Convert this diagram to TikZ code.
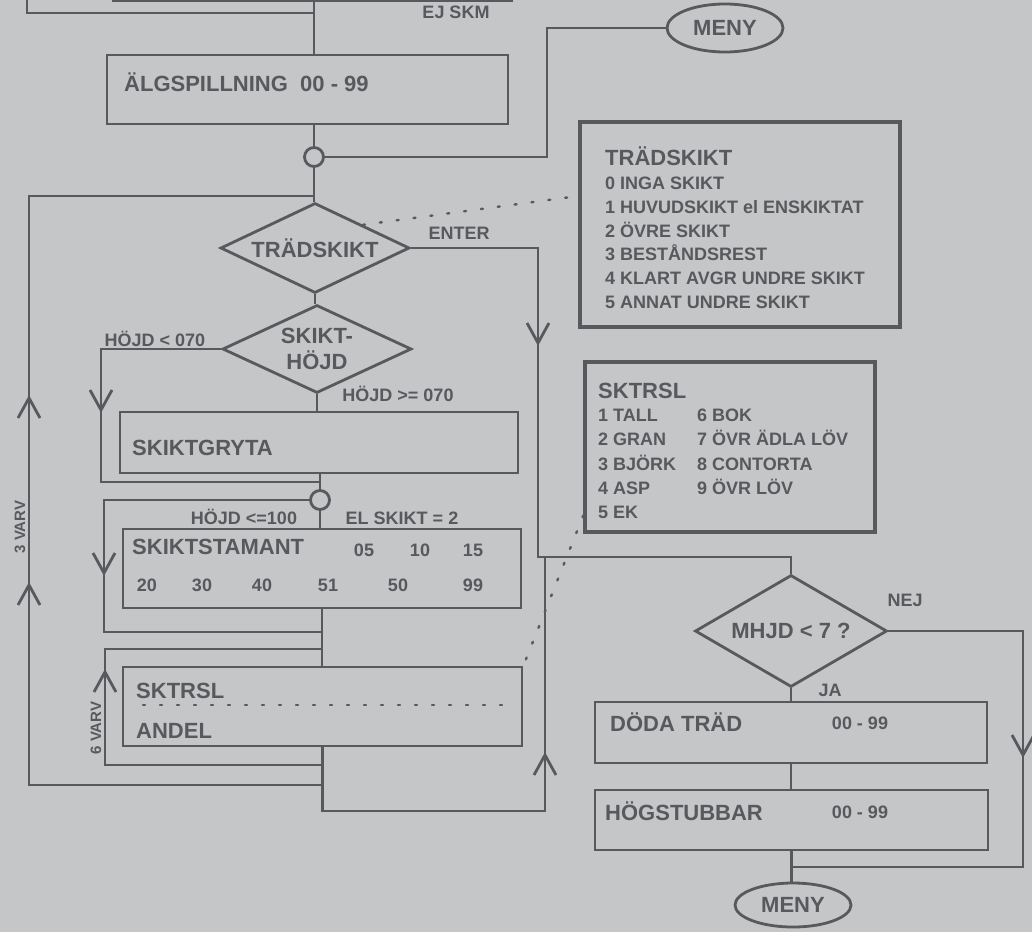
\documentclass[tikz,border=0pt]{standalone}
\usepackage{fontspec}
\setmainfont{Liberation Sans}
\usetikzlibrary{shapes.geometric}
\definecolor{paper}{HTML}{C4C6C8}
\definecolor{ink}{HTML}{58595D}
\newcommand\bigf{\fontsize{22}{26}\selectfont\bfseries}
\newcommand\smallf{\fontsize{18}{21}\selectfont\bfseries}
\newcommand\tinyf{\fontsize{15}{17}\selectfont\bfseries}

\tikzset{
  wire/.style={draw=ink, line width=2.8pt},
  box/.style={wire, rectangle, inner sep=0pt},
  infobox/.style={box, line width=3.4pt},
  dia/.style={wire, diamond, inner sep=0pt},
  menu/.style={wire, ellipse, inner sep=0pt, font=\bigf, text=ink},
  junc/.style={wire, circle, fill=paper, inner sep=0pt, minimum size=19},
  big/.style={font=\bigf, text=ink, inner sep=0pt},
  small/.style={font=\smallf, text=ink, inner sep=0pt},
  tiny/.style={font=\tinyf, text=ink, inner sep=0pt},
  dots/.style={draw=ink, line width=2.4pt, line cap=round, dash pattern=on 2pt off 15pt},
  vdown/.pic={\draw[wire] (-11,-20) -- (0,0) -- (11,-20);},
  vup/.pic={\draw[wire] (-11,20) -- (0,0) -- (11,20);},
}

\begin{document}
\begin{tikzpicture}[x=1pt, y=-1pt]
  \useasboundingbox (0,0) rectangle (1032,932);
  \fill[paper] (0,0) rectangle (1032,932);

  % previous step, cut off at the top edge
  \node[box, minimum width=398, minimum height=60, anchor=south west] (prev) at (112,2) {};
  \coordinate (prevl) at (27,-4);
  \coordinate (prevm) at (314,-4);
  \node[small, anchor=base] (ejskm) at (456,18.5) {EJ SKM};
  \node[menu, minimum width=116, minimum height=48] (meny1) at (725,28) {MENY};

  \node[box, minimum width=401, minimum height=69] (alg) at (307.5,89.5) {};
  \node[big, anchor=base west] (algt) at (124,91) {ÄLGSPILLNING\ \ 00 - 99};
  \node[junc] (c1) at (314,157) {};
  \coordinate (mr) at (547,157);

  \draw[wire] (prevl) |- (prevm |- 0,13);
  \draw[wire] (prevm) -- (prevm |- alg.north);
  \draw[wire] (alg.south -| c1) -- (c1.north);
  \draw[wire] (c1.east) -- (mr) |- (meny1.west);

  % layer questions
  \node[dia, minimum width=189, minimum height=90, label={[big]center:TRÄDSKIKT}] (td) at (315,248) {};
  \node[dia, minimum width=189, minimum height=88, label={[big, align=center]center:SKIKT-\\HÖJD}] (sh) at (317,349) {};
  \node[small, anchor=base] (tenter) at (459,239.5) {ENTER};
  \node[small, anchor=base] (tlow) at (155,346.5) {HÖJD < 070};
  \node[small, anchor=base] (thigh) at (398,401.5) {HÖJD >= 070};

  \node[box, minimum width=398, minimum height=61] (gry) at (319,442.5) {};
  \node[big, anchor=base west] (gryt) at (132,455) {SKIKTGRYTA};
  \node[junc] (c2) at (320,500) {};
  \node[small, anchor=base] (t100) at (244,524.5) {HÖJD <=100};
  \node[small, anchor=base] (tel) at (402,524.5) {EL SKIKT = 2};

  \node[box, minimum width=398, minimum height=79] (stam) at (322,568.5) {};
  \node[big, anchor=base west] (stamt) at (132,554) {SKIKTSTAMANT};
  \foreach \n/\x in {05/364,10/420,15/473}
    \node[small, anchor=base] (sa\n) at (\x,556.5) {\n};
  \foreach \n/\x in {20/147,30/202,40/262,51/328,50/398,99/473}
    \node[small, anchor=base] (sb\n) at (\x,591.5) {\n};

  \node[box, minimum width=399, minimum height=79] (andel) at (322.5,706.5) {};
  \draw[dots] (143,705) -- (512,705);
  \node[big, anchor=base west] (andt1) at (136,698) {SKTRSL};
  \node[big, anchor=base west] (andt2) at (136,738) {ANDEL};

  \node[tiny, rotate=90] (v3) at (20,527) {3 VARV};
  \node[tiny, rotate=90] (v6) at (96,728) {6 VARV};

  % code lists
  \node[infobox, minimum width=320, minimum height=205] (tinfo) at (740,224.5) {};
  \node[big, anchor=base west] (tinfot) at (605,165) {TRÄDSKIKT};
  \foreach \t [count=\i from 0] in {0 INGA SKIKT, 1 HUVUDSKIKT el ENSKIKTAT, 2 ÖVRE SKIKT,
      3 BESTÅNDSREST, 4 KLART AVGR UNDRE SKIKT, 5 ANNAT UNDRE SKIKT}
    \node[small, anchor=base west] (ti\i) at (605,189.5+23.8*\i) {\t};

  \node[infobox, minimum width=290, minimum height=170] (sinfo) at (730,447) {};
  \node[big, anchor=base west] (sinfot) at (598,398) {SKTRSL};
  \foreach \t [count=\i from 0] in {1 TALL, 2 GRAN, 3 BJÖRK, 4 ASP, 5 EK}
    \node[small, anchor=base west] (sl\i) at (598,421.5+24.25*\i) {\t};
  \foreach \t [count=\i from 0] in {6 BOK, 7 ÖVR ÄDLA LÖV, 8 CONTORTA, 9 ÖVR LÖV}
    \node[small, anchor=base west] (sr\i) at (697,421.5+24.25*\i) {\t};

  % dead trees
  \node[dia, minimum width=192, minimum height=112, label={[big]center:MHJD < 7 ?}] (mh) at (791,631) {};
  \node[small, anchor=base] (tnej) at (905,606.5) {NEJ};
  \node[small, anchor=base] (tja) at (830,696.5) {JA};
  \node[box, minimum width=392, minimum height=61] (doda) at (791,732.5) {};
  \node[big, anchor=base west] (dodat) at (610,731) {DÖDA TRÄD};
  \node[small, anchor=base] (dodan) at (860,729.5) {00 - 99};
  \node[box, minimum width=393, minimum height=60] (hog) at (791.5,820) {};
  \node[big, anchor=base west] (hogt) at (605,820) {HÖGSTUBBAR};
  \node[small, anchor=base] (hogn) at (860,818.5) {00 - 99};
  \node[menu, minimum width=116, minimum height=44] (meny2) at (793,905) {MENY};

  % loop corners
  \coordinate (o3a) at (29,196);
  \coordinate (o3b) at (29,785);
  \coordinate (o1a) at (101,349);
  \coordinate (o1b) at (101,482);
  \coordinate (o2a) at (104,500);
  \coordinate (o2b) at (104,632);
  \coordinate (s6a) at (105,649);
  \coordinate (s6b) at (105,765);
  \coordinate (r1) at (545,811);
  \coordinate (r2) at (545,557);
  \coordinate (rr) at (538,557);
  \coordinate (n1) at (1023,631);
  \coordinate (n2) at (1023,867);

  % main line
  \draw[wire] (c1.south) -- (c1.south |- td.north);
  \draw[wire] (td.south) -- (td.south |- sh.north);
  \draw[wire] (sh.south) -- (sh.south |- gry.north);
  \draw[wire] (c2.north |- gry.south) -- (c2.north);
  \draw[wire] (c2.south) -- (c2.south |- stam.north);
  \draw[wire] (stam.south) -- (stam.south |- andel.north);
  \draw[wire] (td.east) -| (rr) -| (mh.north);
  \draw[wire] (mh.south) -- (mh.south |- doda.north);
  \draw[wire] (doda.south) -- (doda.south |- hog.north);
  \draw[wire] (hog.south) -- (hog.south |- meny2.north);

  % loops
  \draw[wire] (td.north |- o3a) -- (o3a) -- (o3b) -- (o3b -| andel.south);
  \draw[wire] (sh.west) -- (o1a) -- (o1b) -- (o1b -| gry.south);
  \draw[wire] (c2.west) -- (o2a) -- (o2b) -- (o2b -| stam.south);
  \draw[wire] (s6a -| stam.south) -- (s6a) -- (s6b) -- (s6b -| andel.south);
  \draw[wire] (andel.south) -- (andel.south |- r1) -- (r1) -- (r2);
  \draw[wire] (mh.east) -- (n1 |- mh.east) -- (n2) -- (n2 -| hog.south);

  % direction marks
  \pic at (538,343) {vdown};
  \pic at (101,410) {vdown};
  \pic at (104,573) {vdown};
  \pic at (1023,755) {vdown};
  \pic at (29,398) {vup};
  \pic at (29,585) {vup};
  \pic at (105,672) {vup};
  \pic at (545,755) {vup};

  % leaders to the code lists
  \draw[dots] (td.north east) -- (tinfo.170);
  \draw[dots] (sinfo.205) -- (andel.north east);
\end{tikzpicture}
\end{document}
